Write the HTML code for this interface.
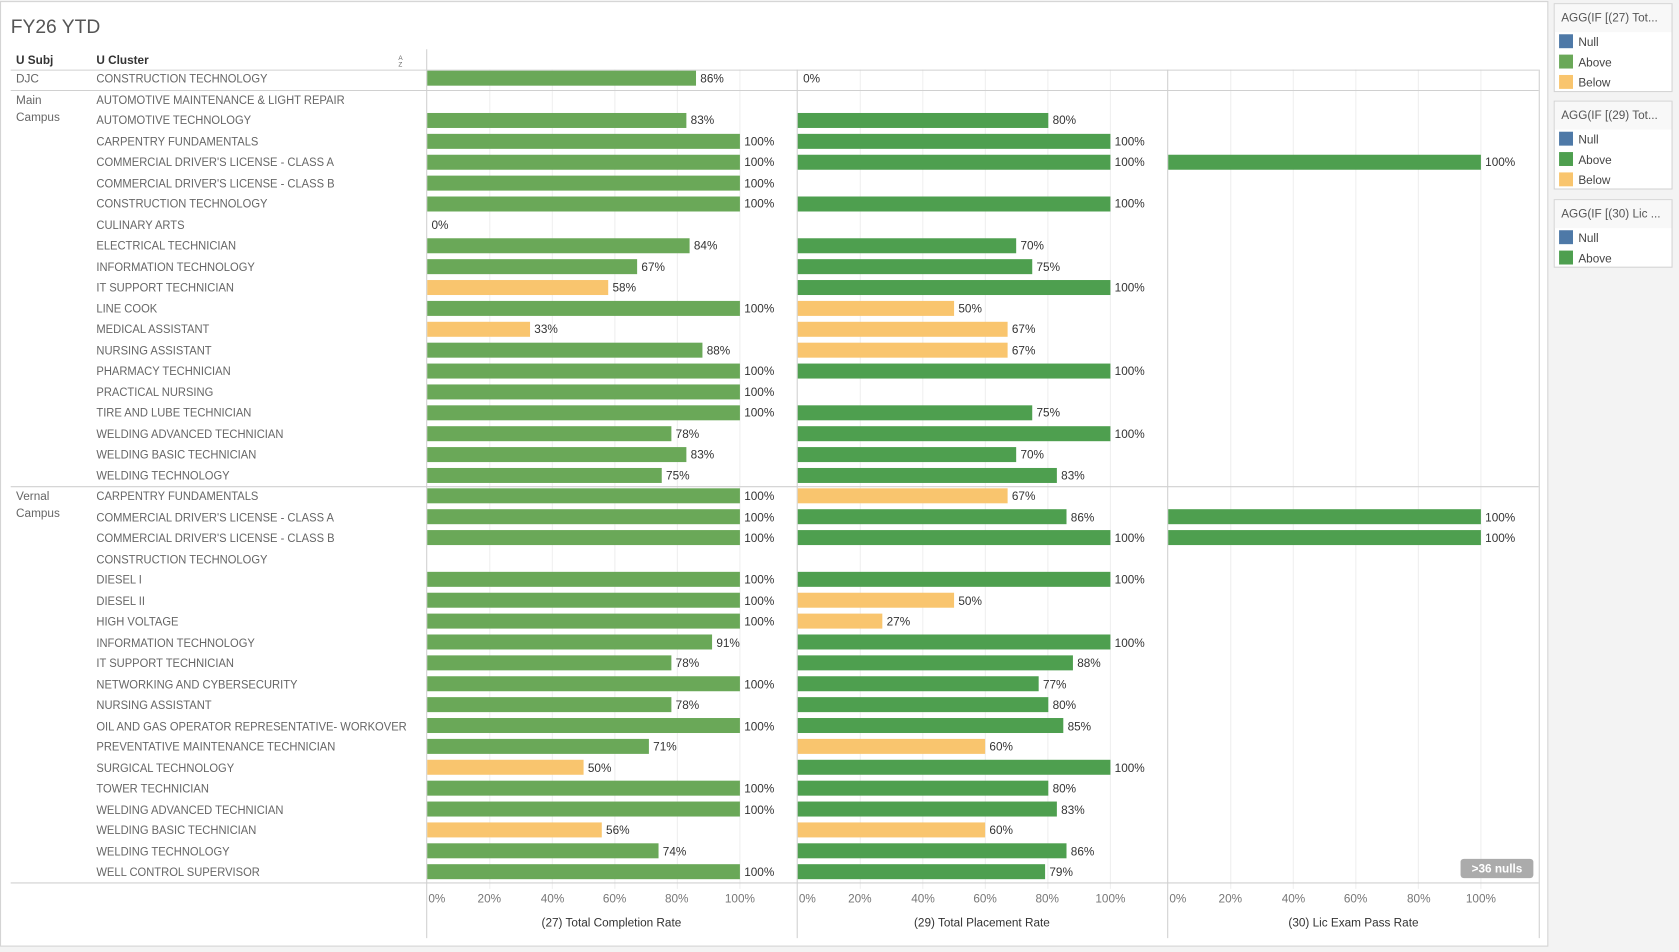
<!DOCTYPE html>
<html><head><meta charset="utf-8"><style>
html,body{margin:0;padding:0;background:#f3f3f3;}
svg{display:block;font-family:"Liberation Sans",sans-serif;}
</style></head><body>
<svg width="1679" height="952" viewBox="0 0 1568 889" preserveAspectRatio="none" xmlns="http://www.w3.org/2000/svg">
<rect x="0" y="0" width="1568" height="889" fill="#f3f3f3"/>
<rect x="0.5" y="1.5" width="1445" height="882" fill="#fff" stroke="#d4d4d4"/>
<text x="10" y="31" font-size="18" fill="#555">FY26 YTD</text>
<text x="15" y="60" font-size="11" fill="#333" font-weight="bold">U Subj</text>
<text x="90" y="60" font-size="11" fill="#333" font-weight="bold">U Cluster</text>
<text x="372" y="56" font-size="6" fill="#666">A</text><text x="372" y="62" font-size="6" fill="#666">Z</text>
<g stroke="#efefef" stroke-width="1">
<line x1="457.4" y1="65" x2="457.4" y2="830"/><line x1="515.8" y1="65" x2="515.8" y2="830"/><line x1="574.2" y1="65" x2="574.2" y2="830"/><line x1="632.6" y1="65" x2="632.6" y2="830"/><line x1="691" y1="65" x2="691" y2="830"/>
<line x1="803.4" y1="65" x2="803.4" y2="830"/><line x1="861.8" y1="65" x2="861.8" y2="830"/><line x1="920.2" y1="65" x2="920.2" y2="830"/><line x1="978.6" y1="65" x2="978.6" y2="830"/><line x1="1037" y1="65" x2="1037" y2="830"/>
<line x1="1149.4" y1="65" x2="1149.4" y2="830"/><line x1="1207.8" y1="65" x2="1207.8" y2="830"/><line x1="1266.2" y1="65" x2="1266.2" y2="830"/><line x1="1324.6" y1="65" x2="1324.6" y2="830"/><line x1="1383" y1="65" x2="1383" y2="830"/>
</g>
<g stroke="#d0d0d0" stroke-width="1">
<line x1="398.5" y1="46" x2="398.5" y2="876"/><line x1="744.5" y1="65" x2="744.5" y2="876"/><line x1="1090.5" y1="65" x2="1090.5" y2="876"/><line x1="1437.5" y1="65" x2="1437.5" y2="876"/>
<line x1="10" y1="65.5" x2="1437" y2="65.5"/>
<line x1="10" y1="84.5" x2="1437" y2="84.5"/>
<line x1="10" y1="454.5" x2="1437" y2="454.5"/>
<line x1="10" y1="824.5" x2="1437" y2="824.5"/>
</g>
<g font-size="11" fill="#666">
<text x="15" y="77">DJC</text>
<text x="15" y="97">Main</text><text x="15" y="113">Campus</text>
<text x="15" y="467">Vernal</text><text x="15" y="483">Campus</text>
</g>
<g transform="translate(90,0) scale(0.95,1)" font-size="11" fill="#666">
<text x="0" y="77">CONSTRUCTION TECHNOLOGY</text>
<text x="0" y="97">AUTOMOTIVE MAINTENANCE &amp; LIGHT REPAIR</text>
<text x="0" y="116">AUTOMOTIVE TECHNOLOGY</text>
<text x="0" y="136">CARPENTRY FUNDAMENTALS</text>
<text x="0" y="155">COMMERCIAL DRIVER'S LICENSE - CLASS A</text>
<text x="0" y="175">COMMERCIAL DRIVER'S LICENSE - CLASS B</text>
<text x="0" y="194">CONSTRUCTION TECHNOLOGY</text>
<text x="0" y="214">CULINARY ARTS</text>
<text x="0" y="233">ELECTRICAL TECHNICIAN</text>
<text x="0" y="253">INFORMATION TECHNOLOGY</text>
<text x="0" y="272">IT SUPPORT TECHNICIAN</text>
<text x="0" y="292">LINE COOK</text>
<text x="0" y="311">MEDICAL ASSISTANT</text>
<text x="0" y="331">NURSING ASSISTANT</text>
<text x="0" y="350">PHARMACY TECHNICIAN</text>
<text x="0" y="370">PRACTICAL NURSING</text>
<text x="0" y="389">TIRE AND LUBE TECHNICIAN</text>
<text x="0" y="409">WELDING ADVANCED TECHNICIAN</text>
<text x="0" y="428">WELDING BASIC TECHNICIAN</text>
<text x="0" y="448">WELDING TECHNOLOGY</text>
<text x="0" y="467">CARPENTRY FUNDAMENTALS</text>
<text x="0" y="487">COMMERCIAL DRIVER'S LICENSE - CLASS A</text>
<text x="0" y="506">COMMERCIAL DRIVER'S LICENSE - CLASS B</text>
<text x="0" y="526">CONSTRUCTION TECHNOLOGY</text>
<text x="0" y="545">DIESEL I</text>
<text x="0" y="565">DIESEL II</text>
<text x="0" y="584">HIGH VOLTAGE</text>
<text x="0" y="604">INFORMATION TECHNOLOGY</text>
<text x="0" y="623">IT SUPPORT TECHNICIAN</text>
<text x="0" y="643">NETWORKING AND CYBERSECURITY</text>
<text x="0" y="662">NURSING ASSISTANT</text>
<text x="0" y="682">OIL AND GAS OPERATOR REPRESENTATIVE- WORKOVER</text>
<text x="0" y="701">PREVENTATIVE MAINTENANCE TECHNICIAN</text>
<text x="0" y="721">SURGICAL TECHNOLOGY</text>
<text x="0" y="740">TOWER TECHNICIAN</text>
<text x="0" y="760">WELDING ADVANCED TECHNICIAN</text>
<text x="0" y="779">WELDING BASIC TECHNICIAN</text>
<text x="0" y="799">WELDING TECHNOLOGY</text>
<text x="0" y="818">WELL CONTROL SUPERVISOR</text>
</g>
<g fill="#6aa858">
<rect x="399" y="66" width="251" height="14"/>
<rect x="399" y="105.5" width="242" height="14"/>
<rect x="399" y="125" width="292" height="14"/>
<rect x="399" y="144.5" width="292" height="14"/>
<rect x="399" y="164" width="292" height="14"/>
<rect x="399" y="183.5" width="292" height="14"/>
<rect x="399" y="222.5" width="245" height="14"/>
<rect x="399" y="242" width="196" height="14"/>
<rect x="399" y="281" width="292" height="14"/>
<rect x="399" y="320" width="257" height="14"/>
<rect x="399" y="339.5" width="292" height="14"/>
<rect x="399" y="359" width="292" height="14"/>
<rect x="399" y="378.5" width="292" height="14"/>
<rect x="399" y="398" width="228" height="14"/>
<rect x="399" y="417.5" width="242" height="14"/>
<rect x="399" y="437" width="219" height="14"/>
<rect x="399" y="456" width="292" height="14"/>
<rect x="399" y="475.5" width="292" height="14"/>
<rect x="399" y="495" width="292" height="14"/>
<rect x="399" y="534" width="292" height="14"/>
<rect x="399" y="553.5" width="292" height="14"/>
<rect x="399" y="573" width="292" height="14"/>
<rect x="399" y="592.5" width="266" height="14"/>
<rect x="399" y="612" width="228" height="14"/>
<rect x="399" y="631.5" width="292" height="14"/>
<rect x="399" y="651" width="228" height="14"/>
<rect x="399" y="670.5" width="292" height="14"/>
<rect x="399" y="690" width="207" height="14"/>
<rect x="399" y="729" width="292" height="14"/>
<rect x="399" y="748.5" width="292" height="14"/>
<rect x="399" y="787.5" width="216" height="14"/>
<rect x="399" y="807" width="292" height="14"/>
</g>
<g fill="#f9c56e">
<rect x="399" y="261.5" width="169" height="14"/>
<rect x="399" y="300.5" width="96" height="14"/>
<rect x="399" y="709.5" width="146" height="14"/>
<rect x="399" y="768" width="163" height="14"/>
</g>
<g fill="#4e9f4f">
<rect x="745" y="105.5" width="234" height="14"/>
<rect x="745" y="125" width="292" height="14"/>
<rect x="745" y="144.5" width="292" height="14"/>
<rect x="745" y="183.5" width="292" height="14"/>
<rect x="745" y="222.5" width="204" height="14"/>
<rect x="745" y="242" width="219" height="14"/>
<rect x="745" y="261.5" width="292" height="14"/>
<rect x="745" y="339.5" width="292" height="14"/>
<rect x="745" y="378.5" width="219" height="14"/>
<rect x="745" y="398" width="292" height="14"/>
<rect x="745" y="417.5" width="204" height="14"/>
<rect x="745" y="437" width="242" height="14"/>
<rect x="745" y="475.5" width="251" height="14"/>
<rect x="745" y="495" width="292" height="14"/>
<rect x="745" y="534" width="292" height="14"/>
<rect x="745" y="592.5" width="292" height="14"/>
<rect x="745" y="612" width="257" height="14"/>
<rect x="745" y="631.5" width="225" height="14"/>
<rect x="745" y="651" width="234" height="14"/>
<rect x="745" y="670.5" width="248" height="14"/>
<rect x="745" y="709.5" width="292" height="14"/>
<rect x="745" y="729" width="234" height="14"/>
<rect x="745" y="748.5" width="242" height="14"/>
<rect x="745" y="787.5" width="251" height="14"/>
<rect x="745" y="807" width="231" height="14"/>
<rect x="1091" y="144.5" width="292" height="14"/>
<rect x="1091" y="475.5" width="292" height="14"/>
<rect x="1091" y="495" width="292" height="14"/>
</g>
<g fill="#f9c56e">
<rect x="745" y="281" width="146" height="14"/>
<rect x="745" y="300.5" width="196" height="14"/>
<rect x="745" y="320" width="196" height="14"/>
<rect x="745" y="456" width="196" height="14"/>
<rect x="745" y="553.5" width="146" height="14"/>
<rect x="745" y="573" width="79" height="14"/>
<rect x="745" y="690" width="175" height="14"/>
<rect x="745" y="768" width="175" height="14"/>
</g>
<g font-size="11" fill="#333">
<text x="654" y="77">86%</text>
<text x="645" y="116">83%</text>
<text x="695" y="136">100%</text>
<text x="695" y="155">100%</text>
<text x="695" y="175">100%</text>
<text x="695" y="194">100%</text>
<text x="403" y="214">0%</text>
<text x="648" y="233">84%</text>
<text x="599" y="253">67%</text>
<text x="572" y="272">58%</text>
<text x="695" y="292">100%</text>
<text x="499" y="311">33%</text>
<text x="660" y="331">88%</text>
<text x="695" y="350">100%</text>
<text x="695" y="370">100%</text>
<text x="695" y="389">100%</text>
<text x="631" y="409">78%</text>
<text x="645" y="428">83%</text>
<text x="622" y="448">75%</text>
<text x="695" y="467">100%</text>
<text x="695" y="487">100%</text>
<text x="695" y="506">100%</text>
<text x="695" y="545">100%</text>
<text x="695" y="565">100%</text>
<text x="695" y="584">100%</text>
<text x="669" y="604">91%</text>
<text x="631" y="623">78%</text>
<text x="695" y="643">100%</text>
<text x="631" y="662">78%</text>
<text x="695" y="682">100%</text>
<text x="610" y="701">71%</text>
<text x="549" y="721">50%</text>
<text x="695" y="740">100%</text>
<text x="695" y="760">100%</text>
<text x="566" y="779">56%</text>
<text x="619" y="799">74%</text>
<text x="695" y="818">100%</text>
<text x="750" y="77">0%</text>
<text x="983" y="116">80%</text>
<text x="1041" y="136">100%</text>
<text x="1041" y="155">100%</text>
<text x="1041" y="194">100%</text>
<text x="953" y="233">70%</text>
<text x="968" y="253">75%</text>
<text x="1041" y="272">100%</text>
<text x="895" y="292">50%</text>
<text x="945" y="311">67%</text>
<text x="945" y="331">67%</text>
<text x="1041" y="350">100%</text>
<text x="968" y="389">75%</text>
<text x="1041" y="409">100%</text>
<text x="953" y="428">70%</text>
<text x="991" y="448">83%</text>
<text x="945" y="467">67%</text>
<text x="1000" y="487">86%</text>
<text x="1041" y="506">100%</text>
<text x="1041" y="545">100%</text>
<text x="895" y="565">50%</text>
<text x="828" y="584">27%</text>
<text x="1041" y="604">100%</text>
<text x="1006" y="623">88%</text>
<text x="974" y="643">77%</text>
<text x="983" y="662">80%</text>
<text x="997" y="682">85%</text>
<text x="924" y="701">60%</text>
<text x="1041" y="721">100%</text>
<text x="983" y="740">80%</text>
<text x="991" y="760">83%</text>
<text x="924" y="779">60%</text>
<text x="1000" y="799">86%</text>
<text x="980" y="818">79%</text>
<text x="1387" y="155">100%</text>
<text x="1387" y="487">100%</text>
<text x="1387" y="506">100%</text>
</g>
<rect x="1364" y="802" width="68" height="18" rx="3" fill="#ababab"/>
<text x="1398" y="815" font-size="11" font-weight="bold" fill="#fff" text-anchor="middle">&gt;36 nulls</text>
<g font-size="11" fill="#777" text-anchor="middle">
<text x="408" y="843">0%</text><text x="457" y="843">20%</text><text x="516" y="843">40%</text><text x="574" y="843">60%</text><text x="632" y="843">80%</text><text x="691" y="843">100%</text>
<text x="754" y="843">0%</text><text x="803" y="843">20%</text><text x="862" y="843">40%</text><text x="920" y="843">60%</text><text x="978" y="843">80%</text><text x="1037" y="843">100%</text>
<text x="1100" y="843">0%</text><text x="1149" y="843">20%</text><text x="1208" y="843">40%</text><text x="1266" y="843">60%</text><text x="1325" y="843">80%</text><text x="1383" y="843">100%</text>
</g>
<g font-size="11" fill="#333" text-anchor="middle">
<text x="571" y="865">(27) Total Completion Rate</text>
<text x="917" y="865">(29) Total Placement Rate</text>
<text x="1264" y="865">(30) Lic Exam Pass Rate</text>
</g>
<g font-size="11" fill="#444">
<rect x="1451.5" y="3.5" width="110" height="82" fill="#fff" stroke="#d4d4d4"/>
<rect x="1452" y="4" width="109" height="26" fill="#f8f8f8"/>
<text x="1458" y="20" fill="#555">AGG(IF [(27) Tot...</text>
<rect x="1456" y="32" width="13" height="13" fill="#4e79a7"/><text x="1474" y="43">Null</text>
<rect x="1456" y="51" width="13" height="13" fill="#6aa858"/><text x="1474" y="62">Above</text>
<rect x="1456" y="70" width="13" height="13" fill="#f9c56e"/><text x="1474" y="81">Below</text>
<rect x="1451.5" y="94.5" width="110" height="82" fill="#fff" stroke="#d4d4d4"/>
<rect x="1452" y="95" width="109" height="26" fill="#f8f8f8"/>
<text x="1458" y="111" fill="#555">AGG(IF [(29) Tot...</text>
<rect x="1456" y="123" width="13" height="13" fill="#4e79a7"/><text x="1474" y="134">Null</text>
<rect x="1456" y="142" width="13" height="13" fill="#4e9f4f"/><text x="1474" y="153">Above</text>
<rect x="1456" y="161" width="13" height="13" fill="#f9c56e"/><text x="1474" y="172">Below</text>
<rect x="1451.5" y="186.5" width="110" height="63" fill="#fff" stroke="#d4d4d4"/>
<rect x="1452" y="187" width="109" height="26" fill="#f8f8f8"/>
<text x="1458" y="203" fill="#555">AGG(IF [(30) Lic ...</text>
<rect x="1456" y="215" width="13" height="13" fill="#4e79a7"/><text x="1474" y="226">Null</text>
<rect x="1456" y="234" width="13" height="13" fill="#4e9f4f"/><text x="1474" y="245">Above</text>
</g>
</svg>
</body></html>
